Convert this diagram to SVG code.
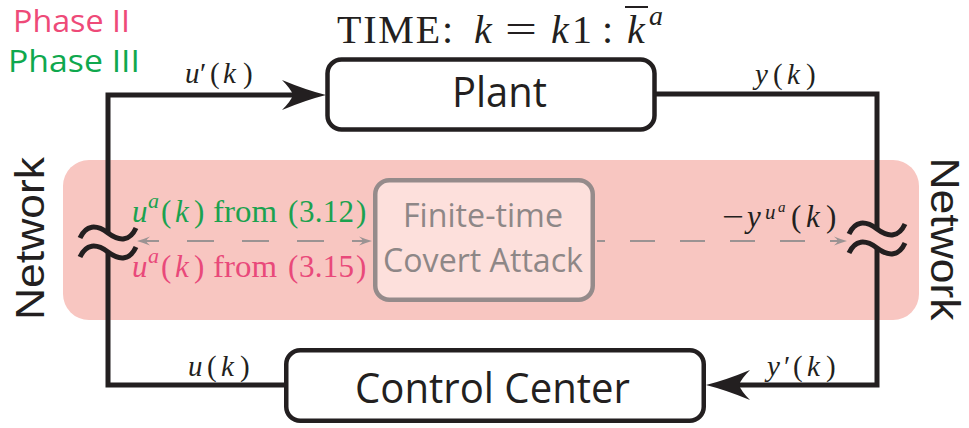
<svg xmlns="http://www.w3.org/2000/svg" width="969" height="428" viewBox="0 0 969 428">
  <defs>
    <style>
      .sans{font-family:"Open Sans","Noto Sans","Liberation Sans",sans-serif}
      .side{font-family:"Liberation Sans","Open Sans",sans-serif;fill:#231f20}
      .serif{font-family:"Liberation Serif","DejaVu Serif",serif;fill:#231f20}
      .it{font-style:italic}
      .box{fill:#fff;stroke:#231f20;stroke-width:4.5}
      .attack{fill:#fde0dc;stroke:#958b8b;stroke-width:4.5}
      .wire{fill:none;stroke:#231f20;stroke-width:5;stroke-linejoin:miter}
      .wave{fill:none;stroke:#231f20;stroke-width:5}
      .dash{fill:none;stroke:#9b9393;stroke-width:2.2}
      .green{fill:#1ba24f}
      .pink{fill:#e9497a}
    </style>
    <marker id="head" markerUnits="userSpaceOnUse" viewBox="-45 -16 46 32" markerWidth="46" markerHeight="32" refX="-33" refY="0" orient="auto">
      <path d="M0,0 Q-20,-5 -44,-15 Q-35,-6 -33,0 Q-35,6 -44,15 Q-20,5 0,0Z" fill="#231f20"/>
    </marker>
    <marker id="headS" markerUnits="userSpaceOnUse" viewBox="-14 -5 15 10" markerWidth="15" markerHeight="10" refX="-9" refY="0" orient="auto-start-reverse">
      <path d="M0,0 Q-6,-1.5 -13,-4.5 Q-10,-2 -9,0 Q-10,2 -13,4.5 Q-6,1.5 0,0Z" fill="#9b9393"/>
    </marker>
  </defs>

  <!-- network band -->
  <rect id="network-band" x="63" y="160" width="856" height="160" rx="26" fill="#f8c6c1"/>

  <!-- phase legend -->
  <g id="legend" class="sans" font-size="31">
    <text x="13" y="32" fill="#ee4a78" textLength="117" lengthAdjust="spacingAndGlyphs">Phase II</text>
    <text x="8" y="72" fill="#0fa84e" textLength="132" lengthAdjust="spacingAndGlyphs">Phase III</text>
  </g>

  <!-- time window -->
  <g id="time" class="serif" font-size="40">
    <text x="337" y="43" textLength="116" lengthAdjust="spacing">TIME:</text>
    <text x="474" y="43" class="it">k</text>
    <text x="505" y="43" textLength="32" lengthAdjust="spacingAndGlyphs">=</text>
    <text x="551" y="43" class="it">k</text>
    <text x="572" y="43">1</text>
    <text x="602" y="43">:</text>
    <text x="627" y="43" class="it">k</text>
    <line x1="625" y1="7" x2="648" y2="7" stroke="#231f20" stroke-width="2"/>
    <text x="649" y="25" class="it" font-size="28">a</text>
  </g>

  <!-- connectors -->
  <g id="connectors">
    <path class="wire" d="M108,233 V95 H293" marker-end="url(#head)"/>
    <path class="wire" d="M108,252 V385 H285"/>
    <path class="wire" d="M655,94 H877 V229"/>
    <path class="wire" d="M877,248 V385 H739" marker-end="url(#head)"/>
    <path class="wave" d="M80,238 C86,225 96,224 108,233 C120,242 130,241 136,228"/>
    <path class="wave" d="M80,257 C86,244 96,243 108,252 C120,261 130,260 136,247"/>
    <path class="wave" d="M849,234 C855,221 865,220 877,229 C889,238 899,237 905,224"/>
    <path class="wave" d="M849,253 C855,240 865,239 877,248 C889,257 899,256 905,243"/>
    <line class="dash" x1="146" y1="241" x2="363" y2="241" stroke-dasharray="27 28" stroke-dashoffset="14" marker-start="url(#headS)" marker-end="url(#headS)"/>
    <line class="dash" x1="597" y1="241" x2="838" y2="241" stroke-dasharray="25 25" stroke-dashoffset="17" marker-end="url(#headS)"/>
  </g>

  <!-- plant -->
  <g id="plant">
    <rect class="box" x="327.5" y="59.5" width="327" height="70" rx="14"/>
    <text class="sans" x="499.5" y="107" font-size="42" fill="#231f20" text-anchor="middle" textLength="95" lengthAdjust="spacingAndGlyphs">Plant</text>
  </g>

  <!-- control center -->
  <g id="control-center">
    <rect class="box" x="286.25" y="350.25" width="417.5" height="70.5" rx="14"/>
    <text class="sans" x="492.5" y="403" font-size="42" fill="#231f20" text-anchor="middle" textLength="275" lengthAdjust="spacingAndGlyphs">Control Center</text>
  </g>

  <!-- finite-time covert attack -->
  <g id="attack">
    <rect class="attack" x="375.25" y="180.25" width="217.5" height="119.5" rx="14"/>
    <text class="sans" x="483" y="227" font-size="33" fill="#8e8787" text-anchor="middle" textLength="160" lengthAdjust="spacingAndGlyphs">Finite-time</text>
    <text class="sans" x="483" y="272" font-size="33" fill="#8e8787" text-anchor="middle" textLength="200" lengthAdjust="spacingAndGlyphs">Covert Attack</text>
  </g>

  <!-- network labels -->
  <g id="network-left">
    <text class="side" font-size="41" transform="translate(44,238.5) rotate(-90)" text-anchor="middle" textLength="163" lengthAdjust="spacingAndGlyphs">Network</text>
  </g>
  <g id="network-right">
    <text class="side" font-size="41" transform="translate(931,239) rotate(90)" text-anchor="middle" textLength="163" lengthAdjust="spacingAndGlyphs">Network</text>
  </g>

  <!-- signal labels -->
  <g id="label-u-prime" class="serif" font-size="29">
    <text x="185" y="83" class="it">u</text>
    <text x="200" y="83">′</text>
    <text x="210" y="83">(</text>
    <text x="223" y="83" class="it">k</text>
    <text x="243" y="83">)</text>
  </g>
  <g id="label-y" class="serif" font-size="29">
    <text x="755" y="84" class="it">y</text>
    <text x="773" y="84">(</text>
    <text x="787" y="84" class="it">k</text>
    <text x="806" y="84">)</text>
  </g>
  <g id="label-u" class="serif" font-size="29">
    <text x="188" y="376" class="it">u</text>
    <text x="207" y="376">(</text>
    <text x="221" y="376" class="it">k</text>
    <text x="240" y="376">)</text>
  </g>
  <g id="label-y-prime" class="serif" font-size="29">
    <text x="767" y="376" class="it">y</text>
    <text x="784" y="376">′</text>
    <text x="793" y="376">(</text>
    <text x="807" y="376" class="it">k</text>
    <text x="826" y="376">)</text>
  </g>
  <g id="label-ua-312" class="serif green" font-size="31">
    <text x="132" y="222" class="it">u</text>
    <text x="148" y="208" class="it" font-size="22">a</text>
    <text x="161" y="222">(</text>
    <text x="175" y="222" class="it">k</text>
    <text x="194" y="222">)</text>
    <text x="213" y="222" textLength="64" lengthAdjust="spacingAndGlyphs">from</text>
    <text x="288" y="222">(</text>
    <text x="299" y="222" textLength="55" lengthAdjust="spacing">3.12</text>
    <text x="356" y="222">)</text>
  </g>
  <g id="label-ua-315" class="serif pink" font-size="31">
    <text x="132" y="277" class="it">u</text>
    <text x="148" y="263" class="it" font-size="22">a</text>
    <text x="161" y="277">(</text>
    <text x="175" y="277" class="it">k</text>
    <text x="194" y="277">)</text>
    <text x="213" y="277" textLength="64" lengthAdjust="spacingAndGlyphs">from</text>
    <text x="288" y="277">(</text>
    <text x="299" y="277" textLength="55" lengthAdjust="spacing">3.15</text>
    <text x="356" y="277">)</text>
  </g>
  <g id="label-y-ua" class="serif" font-size="31">
    <text x="722" y="227" textLength="22" lengthAdjust="spacingAndGlyphs">−</text>
    <text x="747" y="227" class="it">y</text>
    <text x="765" y="219" class="it" font-size="21">u</text>
    <text x="778" y="212" class="it" font-size="15">a</text>
    <text x="791" y="227">(</text>
    <text x="806" y="227" class="it">k</text>
    <text x="826" y="227">)</text>
  </g>
</svg>
